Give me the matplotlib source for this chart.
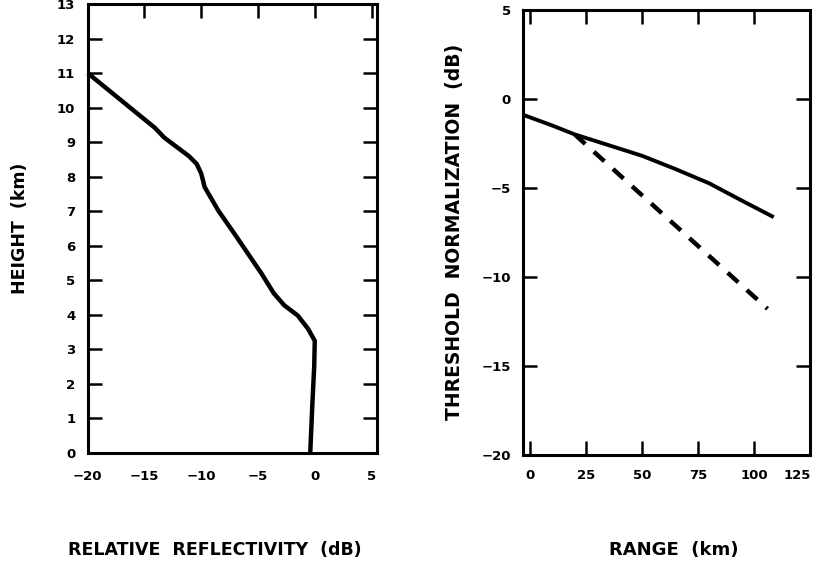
import matplotlib
matplotlib.use("Agg")
import matplotlib.pyplot as plt
from matplotlib.transforms import ScaledTranslation

# vertical profile of relative reflectivity
reflectivity_db = [-0.4, -0.2, -0.05, 0.0, -0.6, -1.5, -2.7, -3.6, -4.7, -5.9,
                   -7.1, -8.5, -9.7, -10.0, -10.4, -11.1, -13.25, -14.1, -20.0]
height_km = [0.0, 1.5, 2.5, 3.25, 3.6, 3.98, 4.28, 4.62, 5.2, 5.78,
             6.36, 7.02, 7.7, 8.09, 8.37, 8.6, 9.13, 9.42, 11.0]

# threshold normalization against range
range_solid = [-3, 10, 20, 35, 50, 65, 80, 95, 108]
thresh_solid = [-0.9, -1.5, -2.0, -2.6, -3.2, -3.95, -4.75, -5.75, -6.6]
range_dashed = [20, 106]
thresh_dashed = [-2.0, -11.8]

height_ticks = list(range(0, 14))
refl_ticks = [-20, -15, -10, -5, 0, 5]
range_ticks = [0, 25, 50, 75, 100, 125]
thresh_ticks = [-20, -15, -10, -5, 0, 5]

plt.rcParams['font.family'] = ['DejaVu Sans']
plt.rcParams['font.weight'] = 'bold'

fig = plt.figure(figsize=(8.2, 5.8), dpi=100)
ax1 = fig.add_axes([0.107, 0.219, 0.353, 0.774])
ax2 = fig.add_axes([0.638, 0.216, 0.350, 0.767])

for ax in (ax1, ax2):
    for s in ax.spines.values():
        s.set_linewidth(2.2)
    ax.tick_params(direction='in', length=10, width=1.8, labelsize=9.5,
                   pad=9, top=True, right=True)

# left panel
ax1.plot(reflectivity_db, height_km, color='black', lw=3.2,
         solid_capstyle='butt', clip_on=False)
ax1.set_xlim(-20, 5.5)
ax1.set_ylim(0, 13)
ax1.set_xticks(refl_ticks)
ax1.set_yticks(height_ticks)
ax1.tick_params(axis='x', bottom=False, labelbottom=True, pad=12)
ax1.set_xlabel('RELATIVE  REFLECTIVITY  (dB)', fontsize=12.5,
               fontweight='bold')
ax1.xaxis.set_label_coords(0.44, -0.195)
ax1.set_ylabel('HEIGHT  (km)', fontsize=12.5, fontweight='bold', labelpad=20)

# right panel
ax2.plot(range_solid, thresh_solid, color='black', lw=2.8)
ax2.plot(range_dashed, thresh_dashed, color='black', lw=3.2,
         dashes=(3.2, 2.6))
ax2.set_xlim(-3, 123)
ax2.set_ylim(-20, 5)
ax2.set_xticks(range_ticks)
ax2.set_yticks(thresh_ticks)
ax2.tick_params(axis='x', pad=10)
last = ax2.get_xticklabels()[-1]
last.set_transform(last.get_transform() +
                   ScaledTranslation(-9 / 72, 0, fig.dpi_scale_trans))
ax2.set_xlabel('RANGE  (km)', fontsize=13, fontweight='bold')
ax2.xaxis.set_label_coords(0.523, -0.193)
ax2.set_ylabel('THRESHOLD  NORMALIZATION  (dB)', fontsize=13.5,
               fontweight='bold', labelpad=12)

fig.savefig('out.png', dpi=100, facecolor='white')
